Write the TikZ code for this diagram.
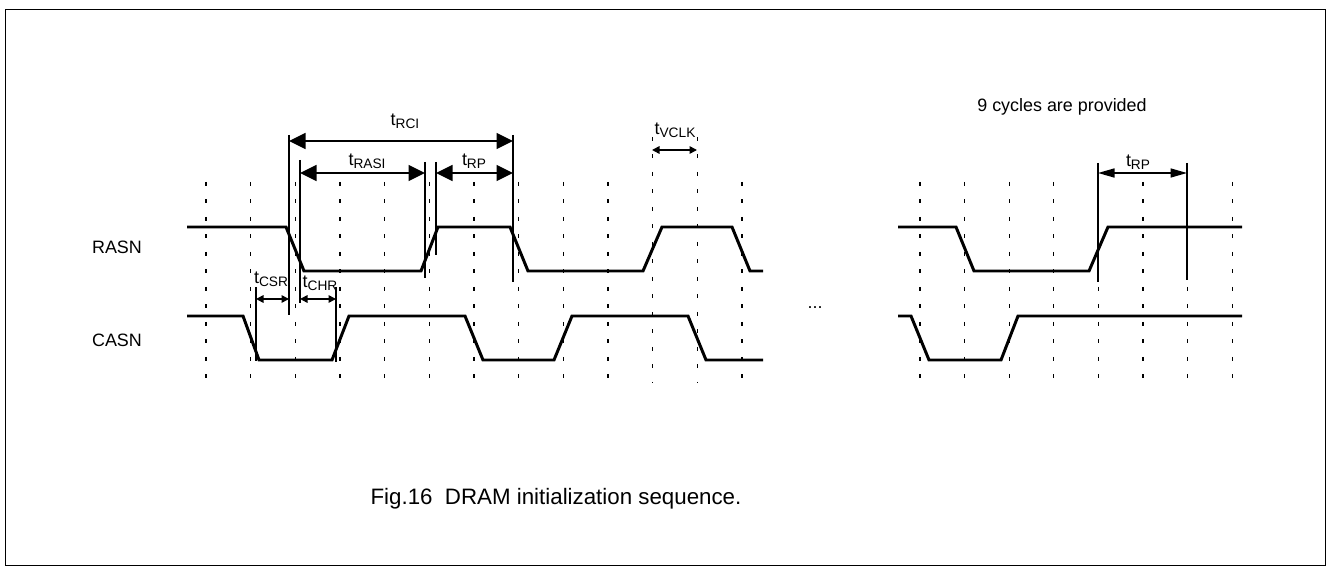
\documentclass[tikz,border=0pt]{standalone}
\usepackage{fontspec}
\setmainfont{Liberation Sans}
\usetikzlibrary{arrows.meta}

\newcommand{\tsub}[1]{t\raisebox{-1.6pt}{\fontsize{7.8}{9}\selectfont #1}}

\begin{document}
\begin{tikzpicture}[x=0.02cm,y=-0.02cm,
  sig/.style={draw=black,line width=1.7pt,line join=miter},
  clk/.style={draw=black,line width=0.75pt,dash pattern=on 0.8mm off 2.7mm},
  guide/.style={draw=black,line width=0.6pt},
  bigdim/.style={{Triangle[length=3.3mm,width=3.2mm]}-{Triangle[length=3.3mm,width=3.2mm]},line width=0.9pt},
  middim/.style={{Triangle[length=3.3mm,width=1.8mm]}-{Triangle[length=3.3mm,width=1.8mm]},line width=0.9pt},
  smalldim/.style={{Triangle[length=1.5mm,width=1.5mm]}-{Triangle[length=1.5mm,width=1.5mm]},line width=0.9pt},
  txt/.style={font=\fontsize{10.2}{12}\selectfont,inner sep=0pt},
  captxt/.style={font=\fontsize{12.7}{15}\selectfont,inner sep=0pt},
]
\useasboundingbox (0,0) rectangle (1327,570);
\draw[line width=1.1pt] (5.5,9.5) rectangle (1325.5,565.5);

% clock grid
\foreach \k in {0,...,9,12}
  \draw[clk] ({206+44.67*\k},182) -- ({206+44.67*\k},382);
\foreach \k in {10,11}
  \draw[clk] ({206+44.67*\k},137) -- ({206+44.67*\k},382);
\foreach \k in {0,...,7}
  \draw[clk] ({920+44.6*\k},182) -- ({920+44.6*\k},382);

% signals
\node[txt] (rasn) at (117,247) {RASN};
\node[txt] (casn) at (117,340) {CASN};
\draw[sig] (187,227) -- (286,227) -- (304,271) -- (421,271) -- (438,227) -- (510,227)
  -- (528,271) -- (643,271) -- (662,227) -- (732,227) -- (750,271) -- (763,271);
\draw[sig] (187,316) -- (243,316) -- (259,360) -- (332,360) -- (349,316) -- (465,316)
  -- (483,360) -- (554,360) -- (572,316) -- (688,316) -- (706,360) -- (763,360);
\draw[sig] (898,227) -- (956,227) -- (974,271) -- (1089,271) -- (1108,227) -- (1242,227);
\draw[sig] (898,316) -- (911,316) -- (929,360) -- (1001,360) -- (1018,316) -- (1242,316);

% timing marks
\coordinate (rciL) at (289,141);
\coordinate (rciR) at (513,141);
\coordinate (rasiL) at (300,173);
\coordinate (rasiR) at (425,173);
\coordinate (rpL) at (436,173);
\coordinate (rpR) at (513,173);
\coordinate (csrL) at (256,299);
\coordinate (csrR) at (289,299);
\coordinate (chrL) at (300,299);
\coordinate (chrR) at (336,299);
\coordinate (vclkL) at (652,150);
\coordinate (vclkR) at (697,150);
\coordinate (rp2L) at (1098,173);
\coordinate (rp2R) at (1187,173);
\draw[guide] (289,135) -- (289,315);
\draw[guide] (513,135) -- (513,282);
\draw[guide] (300,160) -- (300,303);
\draw[guide] (425,162) -- (425,278);
\draw[guide] (436,162) -- (436,255);
\draw[guide] (256,287) -- (256,361);
\draw[guide] (336,287) -- (336,362);
\draw[guide] (1098,163) -- (1098,282);
\draw[guide] (1187,163) -- (1187,280);

\draw[bigdim] (rciL) -- (rciR);
\draw[bigdim] (rasiL) -- (rasiR);
\draw[bigdim] (rpL) -- (rpR);
\draw[smalldim] (csrL) -- (csrR);
\draw[smalldim] (chrL) -- (chrR);
\draw[smalldim] (vclkL) -- (vclkR);
\draw[middim] (rp2L) -- (rp2R);

\node[txt] (trci) at (405,121) {\tsub{RCI}};
\node[txt] (trasi) at (367,161) {\tsub{RASI}};
\node[txt] (trp) at (474,161) {\tsub{RP}};
\node[txt] (tcsr) at (271,279) {\tsub{CSR}};
\node[txt] (tchr) at (320,283) {\tsub{CHR}};
\node[txt] (tvclk) at (675,130) {\tsub{VCLK}};
\node[txt] (trp2) at (1138,162) {\tsub{RP}};

\node[txt,anchor=base] (dots) at (815,309) {...};
\node[txt,anchor=base east] (cycles) at (1147,112) {9 cycles are provided};
\node[captxt,anchor=base] (caption) at (556,504) {Fig.16\ \ DRAM initialization sequence.};
\end{tikzpicture}
\end{document}
